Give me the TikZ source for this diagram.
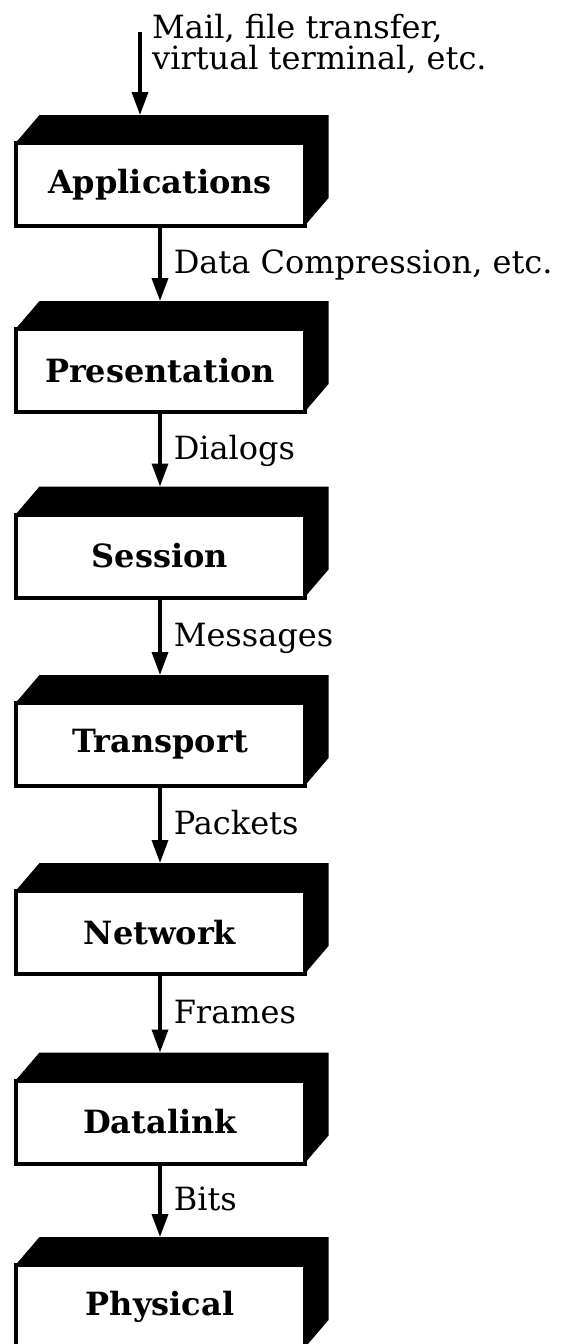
\documentclass[tikz,border=0pt]{standalone}
\usepackage{fontspec}
\setmainfont{DejaVu Serif}
\usetikzlibrary{arrows.meta,positioning}
\tikzstyle{layer}=[draw,line width=4pt,fill=white,minimum width=289pt,minimum height=83pt,inner sep=0pt,outer sep=0pt,font=\fontsize{32}{31}\selectfont\bfseries]
\tikzstyle{p}=[-{Triangle[length=23pt,width=16pt]},line width=3.5pt]
\tikzstyle{txt}=[inner sep=0pt,font=\fontsize{32}{31}\selectfont]
\tikzstyle{lbl}=[txt,anchor=base west,xshift=12pt,yshift=-10pt]
\newcommand{\slab}[1]{\fill (#1.north west) -- ++(24,-28) -- ([shift={(24,-28)}]#1.north east) -- ([shift={(24,-28)}]#1.south east) -- (#1.south east) -- (#1.north east) -- cycle;}

\begin{document}
\begin{tikzpicture}[x=1pt,y=-1pt]
    \useasboundingbox[fill=white] (0,0) rectangle (561,1344);
    \node[layer] (1) at (160,184.5) {Applications};
    \node[layer] (2) at (160,370.5) {Presentation};
    \node[layer] (3) at (160,556) {Session};
    \node[layer] (4) at (160,744.5) {Transport};
    \node[layer] (5) at (160,932.5) {Network};
    \node[layer] (6) at (160,1122) {Datalink};
    \node[layer] (7) at (160,1306.5) {Physical};
    \slab{1} \slab{2} \slab{3} \slab{4} \slab{5} \slab{6} \slab{7}
    \coordinate[above=28pt of 1] (1t);
    \coordinate[above=28pt of 2] (2t);
    \coordinate[above=28pt of 3] (3t);
    \coordinate[above=28pt of 4] (4t);
    \coordinate[above=28pt of 5] (5t);
    \coordinate[above=28pt of 6] (6t);
    \coordinate[above=28pt of 7] (7t);
    \node[txt,anchor=north west,align=left] (m) at (152,14) {Mail, file transfer,\\virtual terminal, etc.};
    \coordinate (0) at (140,32);
    \draw[p] (0) -- (0 |- 1t);
    \draw[p] (1) to node[lbl] {Data Compression, etc.} (2t);
    \draw[p] (2) to node[lbl] {Dialogs} (3t);
    \draw[p] (3) to node[lbl] {Messages} (4t);
    \draw[p] (4) to node[lbl] {Packets} (5t);
    \draw[p] (5) to node[lbl] {Frames} (6t);
    \draw[p] (6) to node[lbl] {Bits} (7t);
\end{tikzpicture}
\end{document}
